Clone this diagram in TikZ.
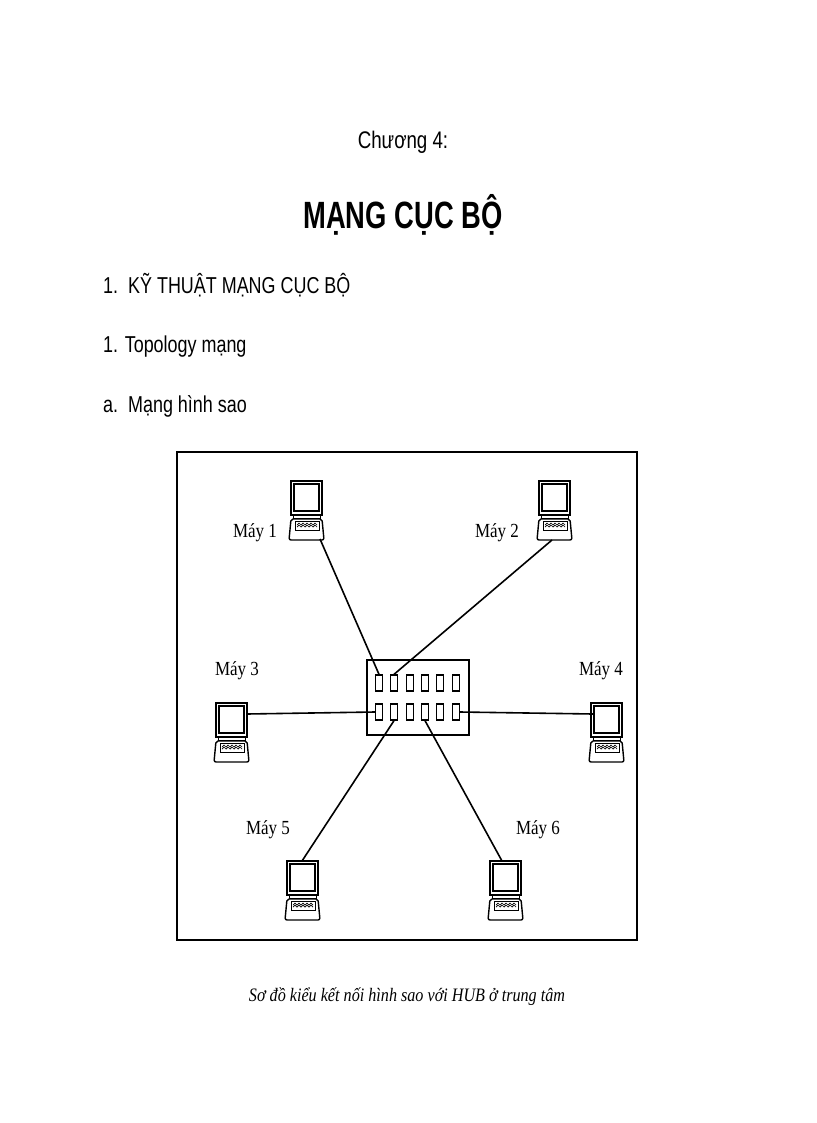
\documentclass[tikz,border=0pt]{standalone}
\usepackage{fontspec}
\setmainfont{Liberation Serif}
\setsansfont{Liberation Sans}[FakeStretch=0.78]
\newfontfamily\titlefont{Liberation Sans}[FakeStretch=0.72]
\newfontfamily\labfont{Liberation Serif}[FakeStretch=0.85]
\begin{document}
\begin{tikzpicture}[x=1pt,y=-1pt,
  head/.style={font=\sffamily\fontsize{23}{26}\selectfont,anchor=west,inner sep=0},
  lab/.style={font=\labfont\fontsize{20}{22}\selectfont,inner sep=0},
  port/.style={draw,line width=1.3pt,minimum width=7pt,minimum height=16pt,inner sep=0},
  wire/.style={line width=1.6pt},
  pc/.pic={
    \draw[line width=1.4pt] (-15,0) rectangle (16,34);
    \draw[line width=1.4pt] (-12,3) rectangle (13,30);
    \draw[line width=1pt] (-13,34) -- (-13,37) -- (14,37) -- (14,34);
    \draw[line width=1.4pt,rounded corners=2] (-15,38) -- (16,38) -- (18,59) -- (-17,59) -- cycle;
    \draw[line width=0.7pt] (-9,44) -- (-7,42) -- (-5,44) -- (-3,42) -- (-1,44) -- (1,42) -- (3,44) -- (5,42) -- (7,44) -- (9,42) -- (11,44);
    \draw[line width=0.7pt] (-9,46) -- (-7,44) -- (-5,46) -- (-3,44) -- (-1,46) -- (1,44) -- (3,46) -- (5,44) -- (7,46) -- (9,44) -- (11,46);
    \draw[line width=0.8pt] (-11,40) rectangle (13,49);
  }]
\useasboundingbox (0,0) rectangle (816,1123);
\node[font=\sffamily\fontsize{24}{26}\selectfont] (ch) at (403,142) {Chương 4:};
\node[font=\titlefont\bfseries\fontsize{38}{40}\selectfont] (tt) at (403,215) {MẠNG CỤC BỘ};
\node[head] (h1) at (103,285) {1.\ \ KỸ THUẬT MẠNG CỤC BỘ};
\node[head] (h2) at (103,347) {1. Topology mạng};
\node[head] (h3) at (103,406) {a.\ \ Mạng hình sao};
\draw[line width=2pt] (177,452) rectangle (637,940);
\node[draw,line width=2pt,minimum width=102pt,minimum height=75pt,inner sep=0] (hub) at (418,697) {};
\foreach \i/\x in {1/379,2/394,3/410,4/425,5/440,6/456}{
  \node[port] (a\i) at (\x,683) {};
  \node[port] (b\i) at (\x,712) {};
}
\pic at (306,481) {pc}; \coordinate (c1) at (320,539);
\pic at (554,481) {pc}; \coordinate (c2) at (552,540);
\pic at (231,703) {pc}; \coordinate (c3) at (247,714);
\pic at (606,703) {pc}; \coordinate (c4) at (593,714);
\pic at (302,861) {pc}; \coordinate (c5) at (302,861);
\pic at (505,861) {pc}; \coordinate (c6) at (502,861);
\node[lab] (l1) at (255,533) {Máy 1};
\node[lab] (l2) at (497,533) {Máy 2};
\node[lab] (l3) at (237,671) {Máy 3};
\node[lab] (l4) at (601,671) {Máy 4};
\node[lab] (l5) at (268,830) {Máy 5};
\node[lab] (l6) at (538,830) {Máy 6};
\draw[wire] (c1) -- (a1.north);
\draw[wire] (c2) -- (a2.north);
\draw[wire] (c3) -- (b1.west);
\draw[wire] (c4) -- (b6.east);
\draw[wire] (c5) -- (b2.south);
\draw[wire] (c6) -- (b4.south);
\node[font=\labfont\itshape\fontsize{19}{20}\selectfont] (cap) at (407,997) {Sơ đồ kiểu kết nối hình sao với HUB ở trung tâm};
\end{tikzpicture}
\end{document}
